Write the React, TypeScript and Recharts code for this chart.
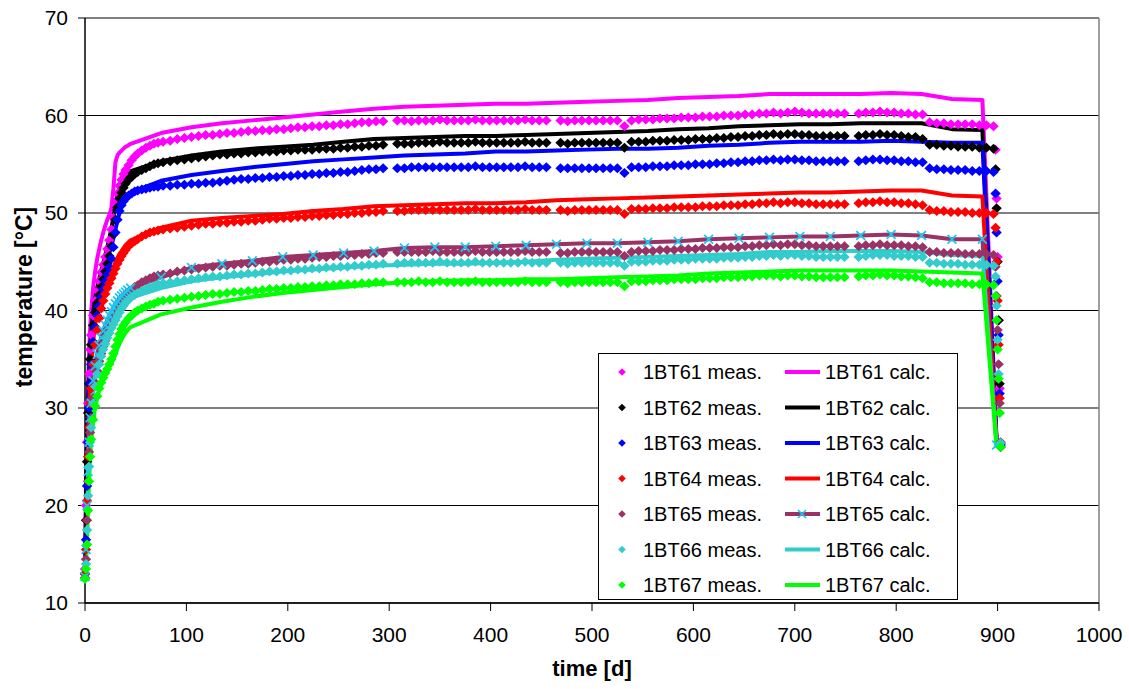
import React from 'react';
import {
  ComposedChart,
  Line,
  Scatter,
  XAxis,
  YAxis,
  CartesianGrid,
  Legend,
  ReferenceLine,
  Label,
} from 'recharts';

const FONT = '"Liberation Sans", Arial, Helvetica, sans-serif';

// Measurement days (weekly readings after the warm-up phase, with a few missing weeks)
const MEAS_DAYS = [
  0, 1, 2, 3, 4, 5, 6, 8, 10, 12, 14, 16, 18, 20, 22,
  24, 26, 28, 30, 32, 34, 36, 38, 40, 43, 46, 49, 52, 56, 60, 64, 68, 72,
  77, 84, 91, 98, 105, 112, 119, 126, 133, 140,
  147, 154, 161, 168, 175, 182, 189, 196, 203, 210,
  217, 224, 231, 238, 245, 252, 259, 266, 273, 280,
  287, 294,
  308, 315, 322, 329, 336, 343, 350, 357, 364, 371,
  378, 385, 392, 399, 406, 413, 420, 427, 434, 441,
  448, 455,
  469, 476, 483, 490, 497, 504, 511, 518, 525, 532,
  539, 546, 553, 560, 567, 574, 581, 588, 595, 602,
  609, 616, 623, 630, 637, 644, 651, 658, 665, 672,
  679, 686, 693, 700, 707, 714, 721, 728, 735, 742,
  749,
  763, 770, 777, 784, 791, 798, 805, 812, 819, 826,
  833, 840, 847, 854, 861, 868, 875, 882, 889, 896,
  898, 899, 900, 901, 902, 903,
];

const BT61_MEAS = [
  13.5, 20.0, 26.5, 30.5, 33.5, 36.0, 37.5, 39.5, 41.0, 42.0, 43.0, 43.9, 44.7, 45.5, 46.3,
  47.2, 48.3, 49.5, 51.0, 52.0, 52.8, 53.4, 54.0, 54.4, 54.9, 55.4, 55.8, 56.1, 56.4, 56.7, 56.9, 57.1, 57.2,
  57.3, 57.4, 57.6, 57.7, 57.8, 57.9, 58.0, 58.0, 58.1, 58.2,
  58.2, 58.3, 58.4, 58.4, 58.5, 58.5, 58.6, 58.6, 58.7, 58.8,
  58.8, 58.9, 58.9, 59.0, 59.0, 59.1, 59.1, 59.2, 59.3, 59.3,
  59.4, 59.4,
  59.5, 59.5, 59.4, 59.5, 59.5, 59.5, 59.6, 59.5, 59.5, 59.5,
  59.5, 59.6, 59.5, 59.5, 59.5, 59.5, 59.5, 59.5, 59.6, 59.5,
  59.5, 59.5,
  59.5, 59.4, 59.5, 59.5, 59.5, 59.5, 59.5, 59.5, 59.5, 58.9,
  59.5, 59.6, 59.6, 59.6, 59.7, 59.7, 59.7, 59.8, 59.8, 59.8,
  59.9, 59.9, 59.9, 60.0, 60.0, 60.0, 60.1, 60.1, 60.2, 60.2,
  60.3, 60.2, 60.3, 60.4, 60.3, 60.2, 60.2, 60.2, 60.2, 60.2,
  60.2,
  60.2, 60.3, 60.3, 60.4, 60.3, 60.3, 60.2, 60.2, 60.1, 60.1,
  59.3, 59.2, 59.2, 59.1, 59.1, 59.1, 59.1, 59.0, 59.0, 58.9,
  56.5, 51.5, 45.5, 39.0, 32.0, 26.3,
];

const BT62_MEAS = [
  13.0, 18.5, 24.5, 29.5, 32.5, 35.0, 36.5, 38.5, 39.8, 40.8, 41.6, 42.4, 43.2, 44.0, 44.8,
  45.6, 46.6, 47.8, 49.3, 50.6, 51.5, 52.1, 52.6, 53.0, 53.4, 53.7, 54.0, 54.2, 54.4, 54.6, 54.8, 55.0, 55.1,
  55.2, 55.3, 55.4, 55.5, 55.6, 55.7, 55.8, 55.9, 56.0, 56.0,
  56.1, 56.1, 56.2, 56.2, 56.3, 56.3, 56.3, 56.4, 56.4, 56.5,
  56.5, 56.5, 56.6, 56.6, 56.6, 56.7, 56.7, 56.8, 56.8, 56.9,
  56.9, 57.0,
  57.1, 57.1, 57.1, 57.2, 57.2, 57.2, 57.3, 57.2, 57.2, 57.2,
  57.2, 57.3, 57.2, 57.2, 57.2, 57.2, 57.2, 57.2, 57.3, 57.2,
  57.2, 57.2,
  57.2, 57.1, 57.2, 57.2, 57.2, 57.2, 57.2, 57.2, 57.2, 56.7,
  57.3, 57.3, 57.3, 57.4, 57.4, 57.4, 57.5, 57.5, 57.5, 57.6,
  57.6, 57.6, 57.7, 57.7, 57.8, 57.8, 57.9, 57.9, 58.0, 58.0,
  58.1, 58.0, 58.1, 58.1, 58.0, 58.0, 57.9, 57.9, 57.9, 57.9,
  57.9,
  57.9, 58.0, 58.0, 58.1, 58.0, 58.0, 57.9, 57.8, 57.8, 57.6,
  57.0, 57.0, 56.9, 56.9, 56.8, 56.8, 56.8, 56.7, 56.7, 56.6,
  54.5, 50.5, 45.0, 39.0, 32.5, 26.0,
];

const BT63_MEAS = [
  13.0, 16.5, 22.0, 26.5, 30.0, 32.5, 34.5, 36.8, 38.3, 39.5, 40.5, 41.4, 42.2, 43.0, 43.7,
  44.4, 45.3, 46.5, 48.0, 49.3, 50.2, 50.8, 51.2, 51.5, 51.8, 52.0, 52.2, 52.3, 52.4, 52.5, 52.6, 52.7, 52.7,
  52.8, 52.8, 52.9, 52.9, 53.0, 53.0, 53.1, 53.1, 53.2, 53.3,
  53.4, 53.5, 53.5, 53.6, 53.6, 53.7, 53.7, 53.8, 53.8, 53.9,
  53.9, 54.0, 54.0, 54.1, 54.1, 54.2, 54.2, 54.3, 54.4, 54.5,
  54.5, 54.6,
  54.6, 54.6, 54.7, 54.7, 54.7, 54.7, 54.7, 54.7, 54.7, 54.7,
  54.7, 54.8, 54.7, 54.7, 54.7, 54.7, 54.7, 54.7, 54.8, 54.7,
  54.7, 54.7,
  54.6, 54.6, 54.6, 54.6, 54.6, 54.6, 54.6, 54.6, 54.6, 54.1,
  54.7, 54.7, 54.7, 54.8, 54.8, 54.8, 54.9, 54.9, 54.9, 55.0,
  55.0, 55.0, 55.1, 55.1, 55.2, 55.2, 55.3, 55.3, 55.4, 55.4,
  55.5, 55.4, 55.5, 55.5, 55.4, 55.4, 55.3, 55.3, 55.3, 55.3,
  55.3,
  55.3, 55.4, 55.5, 55.5, 55.4, 55.4, 55.3, 55.3, 55.2, 55.2,
  54.6, 54.5, 54.5, 54.4, 54.4, 54.4, 54.3, 54.3, 54.3, 54.2,
  52.0, 48.0, 43.0, 37.5, 31.5, 26.2,
];

const BT64_MEAS = [
  13.0, 15.5, 20.5, 25.0, 28.0, 30.5, 32.0, 34.5, 36.5, 38.0, 39.2, 40.2, 41.0, 41.7, 42.3,
  42.8, 43.3, 43.8, 44.3, 44.8, 45.2, 45.6, 45.9, 46.2, 46.6, 46.9, 47.1, 47.3, 47.6, 47.8, 48.0, 48.1, 48.2,
  48.3, 48.4, 48.5, 48.6, 48.7, 48.8, 48.9, 48.9, 49.0, 49.0,
  49.1, 49.1, 49.2, 49.2, 49.3, 49.4, 49.4, 49.5, 49.5, 49.6,
  49.6, 49.7, 49.7, 49.8, 49.8, 49.9, 49.9, 50.0, 50.0, 50.1,
  50.1, 50.2,
  50.2, 50.2, 50.3, 50.3, 50.3, 50.3, 50.3, 50.3, 50.3, 50.3,
  50.3, 50.4, 50.3, 50.3, 50.3, 50.3, 50.3, 50.3, 50.4, 50.3,
  50.3, 50.3,
  50.3, 50.2, 50.3, 50.3, 50.3, 50.3, 50.3, 50.3, 50.3, 49.9,
  50.4, 50.4, 50.4, 50.5, 50.5, 50.5, 50.6, 50.6, 50.6, 50.6,
  50.7, 50.7, 50.7, 50.8, 50.8, 50.8, 50.9, 50.9, 51.0, 51.0,
  51.1, 51.0, 51.1, 51.1, 51.0, 51.0, 50.9, 50.9, 50.9, 50.9,
  50.9,
  51.0, 51.1, 51.1, 51.2, 51.1, 51.1, 51.0, 51.0, 50.9, 50.8,
  50.3, 50.2, 50.2, 50.1, 50.1, 50.1, 50.0, 50.0, 50.0, 49.9,
  48.5, 45.0, 41.0, 36.5, 31.0, 26.4,
];

const BT65_MEAS = [
  12.6, 14.5, 18.5, 22.5, 25.5, 27.5, 29.0, 31.0, 32.6, 33.8, 34.8, 35.6, 36.3, 36.9, 37.5,
  38.0, 38.5, 39.0, 39.5, 40.0, 40.4, 40.8, 41.1, 41.4, 41.8, 42.1, 42.4, 42.6, 42.9, 43.1, 43.3, 43.5, 43.6,
  43.7, 43.8, 44.0, 44.1, 44.2, 44.3, 44.4, 44.5, 44.6, 44.6,
  44.7, 44.8, 44.8, 44.9, 45.0, 45.0, 45.1, 45.2, 45.2, 45.3,
  45.3, 45.4, 45.5, 45.5, 45.6, 45.6, 45.7, 45.7, 45.8, 45.8,
  45.9, 45.9,
  46.0, 46.0, 46.0, 46.0, 46.0, 46.1, 46.0, 46.0, 46.0, 46.0,
  46.0, 46.1, 46.0, 46.0, 46.0, 46.0, 46.0, 46.0, 46.1, 46.0,
  46.0, 46.0,
  45.9, 45.9, 46.0, 46.0, 46.0, 46.0, 46.0, 46.0, 46.0, 45.6,
  46.0, 46.1, 46.1, 46.1, 46.2, 46.2, 46.2, 46.3, 46.3, 46.3,
  46.4, 46.4, 46.4, 46.5, 46.5, 46.5, 46.6, 46.6, 46.7, 46.7,
  46.8, 46.7, 46.8, 46.8, 46.7, 46.7, 46.6, 46.6, 46.6, 46.6,
  46.6,
  46.6, 46.7, 46.7, 46.8, 46.7, 46.7, 46.7, 46.6, 46.6, 46.5,
  46.0, 46.0, 45.9, 45.9, 45.9, 45.8, 45.8, 45.8, 45.8, 45.7,
  44.5, 41.5, 38.0, 34.5, 30.5, 26.5,
];

const BT66_MEAS = [
  12.5, 14.0, 17.5, 21.0, 24.0, 26.5, 28.0, 30.5, 32.2, 33.5, 34.5, 35.3, 36.0, 36.6, 37.2,
  37.7, 38.2, 38.6, 39.0, 39.4, 39.8, 40.2, 40.5, 40.8, 41.1, 41.4, 41.6, 41.8, 42.0, 42.2, 42.4, 42.5, 42.7,
  42.8, 42.9, 43.0, 43.1, 43.2, 43.3, 43.4, 43.5, 43.5, 43.6,
  43.7, 43.7, 43.8, 43.8, 43.9, 44.0, 44.0, 44.1, 44.1, 44.2,
  44.2, 44.3, 44.3, 44.4, 44.4, 44.5, 44.5, 44.6, 44.6, 44.7,
  44.7, 44.8,
  44.8, 44.9, 44.9, 44.9, 44.9, 44.9, 45.0, 44.9, 44.9, 44.9,
  44.9, 45.0, 44.9, 44.9, 44.9, 44.9, 44.9, 44.9, 45.0, 44.9,
  44.9, 44.9,
  44.9, 44.8, 44.9, 44.9, 44.9, 44.9, 44.9, 44.9, 44.9, 44.6,
  45.0, 45.0, 45.0, 45.1, 45.1, 45.1, 45.2, 45.2, 45.2, 45.3,
  45.3, 45.3, 45.3, 45.4, 45.4, 45.4, 45.5, 45.5, 45.6, 45.6,
  45.7, 45.6, 45.7, 45.7, 45.6, 45.6, 45.5, 45.5, 45.5, 45.5,
  45.5,
  45.5, 45.6, 45.7, 45.7, 45.7, 45.6, 45.6, 45.6, 45.5, 45.5,
  44.9, 44.9, 44.8, 44.8, 44.8, 44.7, 44.7, 44.7, 44.7, 44.6,
  43.5, 40.5, 37.0, 33.5, 29.5, 26.4,
];

const BT67_MEAS = [
  12.5, 13.5, 16.0, 19.5, 22.5, 25.0, 26.8, 28.8, 30.2, 31.2, 32.0, 32.6, 33.1, 33.6, 34.0,
  34.5, 35.0, 35.6, 36.3, 37.0, 37.6, 38.1, 38.5, 38.8, 39.2, 39.5, 39.8, 40.0, 40.2, 40.4, 40.6, 40.7, 40.9,
  41.0, 41.1, 41.2, 41.3, 41.4, 41.5, 41.6, 41.7, 41.7, 41.8,
  41.9, 41.9, 42.0, 42.0, 42.1, 42.2, 42.2, 42.3, 42.3, 42.4,
  42.4, 42.5, 42.5, 42.6, 42.6, 42.7, 42.7, 42.7, 42.8, 42.8,
  42.9, 42.9,
  42.9, 42.9, 42.9, 43.0, 42.9, 42.9, 43.0, 42.9, 42.9, 42.9,
  42.9, 43.0, 42.9, 42.9, 42.9, 42.9, 42.9, 42.9, 43.0, 42.9,
  42.9, 42.9,
  42.9, 42.8, 42.9, 42.9, 42.9, 42.9, 42.9, 42.9, 42.9, 42.5,
  43.0, 43.0, 43.0, 43.1, 43.1, 43.1, 43.2, 43.2, 43.2, 43.2,
  43.3, 43.3, 43.3, 43.4, 43.4, 43.4, 43.5, 43.5, 43.6, 43.6,
  43.6, 43.5, 43.6, 43.6, 43.5, 43.5, 43.4, 43.4, 43.4, 43.4,
  43.4,
  43.5, 43.6, 43.6, 43.7, 43.6, 43.6, 43.5, 43.5, 43.4, 43.3,
  42.9, 42.9, 42.8, 42.8, 42.8, 42.8, 42.7, 42.7, 42.7, 42.6,
  41.5, 39.0, 36.0, 33.0, 29.5, 26.0,
];

// Simulation output days
const CALC_DAYS = [
  0, 1, 2, 3, 4, 5, 6, 8, 10, 12, 14,
  16, 18, 20, 22, 24, 26, 28, 30, 32, 34, 36, 38, 40, 42, 45,
  75, 105, 135, 165, 195, 225, 255, 285, 315, 345,
  375, 405, 435, 465, 495, 525, 555, 585, 615, 645,
  675, 705, 735, 765, 795, 825, 855, 885, 899,
];

const BT61_CALC = [
  13.5, 22.0, 28.0, 32.5, 35.5, 38.0, 39.8, 42.3, 44.0, 45.3, 46.3,
  47.2, 48.0, 48.7, 49.3, 49.8, 50.5, 52.5, 55.2, 55.9, 56.2, 56.4, 56.6, 56.8, 56.9, 57.1,
  58.2, 58.8, 59.2, 59.5, 59.8, 60.1, 60.4, 60.7, 60.9, 61.0,
  61.1, 61.2, 61.2, 61.3, 61.4, 61.5, 61.6, 61.8, 61.9, 62.0,
  62.2, 62.2, 62.2, 62.2, 62.3, 62.2, 61.7, 61.6, 26.8,
];

const BT62_CALC = [
  13.0, 20.0, 26.0, 30.5, 33.5, 36.0, 37.6, 39.8, 41.2, 42.3, 43.2,
  44.1, 44.9, 45.7, 46.5, 47.4, 48.4, 49.6, 50.8, 51.8, 52.5, 53.0, 53.4, 53.7, 54.0, 54.3,
  55.3, 55.9, 56.3, 56.6, 56.8, 57.0, 57.3, 57.6, 57.7, 57.8,
  57.9, 57.9, 58.0, 58.1, 58.2, 58.3, 58.4, 58.6, 58.7, 58.9,
  59.0, 59.1, 59.1, 59.2, 59.2, 59.2, 58.6, 58.5, 26.5,
];

const BT63_CALC = [
  13.0, 18.0, 24.0, 28.5, 31.8, 34.3, 36.0, 38.4, 40.0, 41.2, 42.2,
  43.1, 43.9, 44.6, 45.3, 45.9, 46.6, 47.4, 48.3, 49.2, 50.0, 50.6, 51.1, 51.5, 51.8, 52.1,
  53.3, 53.9, 54.3, 54.7, 55.0, 55.3, 55.5, 55.7, 55.9, 56.0,
  56.1, 56.3, 56.3, 56.4, 56.5, 56.6, 56.6, 56.7, 56.9, 57.0,
  57.2, 57.3, 57.3, 57.3, 57.4, 57.3, 57.2, 57.2, 26.3,
];

const BT64_CALC = [
  12.8, 16.0, 21.0, 25.5, 29.0, 32.0, 34.0, 36.8, 38.5, 39.7, 40.6,
  41.4, 42.0, 42.6, 43.1, 43.6, 44.0, 44.4, 44.9, 45.4, 45.8, 46.1, 46.4, 46.7, 46.9, 47.2,
  48.5, 49.2, 49.5, 49.7, 49.9, 50.2, 50.4, 50.7, 50.8, 50.9,
  51.0, 51.0, 51.1, 51.3, 51.4, 51.5, 51.6, 51.7, 51.8, 51.9,
  52.0, 52.1, 52.1, 52.2, 52.3, 52.3, 51.8, 51.7, 26.4,
];

const BT65_CALC = [
  12.7, 15.5, 20.0, 23.5, 26.5, 29.0, 30.5, 32.8, 34.3, 35.5, 36.4,
  37.2, 37.9, 38.5, 39.0, 39.5, 39.9, 40.3, 40.7, 41.0, 41.3, 41.5, 41.7, 41.9, 42.1, 42.3,
  43.4, 44.4, 44.8, 45.1, 45.5, 45.7, 45.9, 46.1, 46.4, 46.5,
  46.5, 46.6, 46.7, 46.8, 46.9, 46.9, 47.0, 47.1, 47.3, 47.4,
  47.5, 47.6, 47.6, 47.7, 47.8, 47.7, 47.3, 47.3, 26.2,
];

const BT66_CALC = [
  12.5, 15.0, 19.0, 22.5, 25.5, 28.0, 29.6, 31.8, 33.3, 34.4, 35.3,
  36.1, 36.8, 37.4, 37.9, 38.4, 38.8, 39.2, 39.6, 39.9, 40.2, 40.5, 40.7, 40.9, 41.1, 41.3,
  42.3, 43.0, 43.4, 43.7, 44.0, 44.2, 44.4, 44.6, 44.7, 44.8,
  44.8, 44.9, 45.0, 45.2, 45.3, 45.4, 45.5, 45.6, 45.7, 45.8,
  46.0, 46.0, 46.1, 46.1, 46.1, 46.0, 45.7, 45.6, 26.3,
];

const BT67_CALC = [
  12.5, 13.8, 16.5, 19.5, 22.5, 24.8, 26.5, 28.6, 30.0, 31.0, 31.8,
  32.4, 32.9, 33.4, 33.8, 34.2, 34.6, 35.0, 35.5, 36.1, 36.6, 37.0, 37.4, 37.7, 38.0, 38.3,
  39.6, 40.3, 40.9, 41.4, 41.8, 42.1, 42.4, 42.7, 42.9, 43.0,
  43.1, 43.1, 43.2, 43.2, 43.3, 43.4, 43.5, 43.6, 43.8, 43.9,
  44.0, 44.1, 44.1, 44.1, 44.1, 44.0, 43.9, 43.8, 26.0,
];

const X_TICKS = [0, 100, 200, 300, 400, 500, 600, 700, 800, 900, 1000];
const Y_TICKS = [10, 20, 30, 40, 50, 60, 70];

type Sensor = {
  id: string;
  color: string;
  meas: number[];
  calc: number[];
  marker?: string;
};

const SENSORS: Sensor[] = [
  { id: '1BT61', color: '#FF00FF', meas: BT61_MEAS, calc: BT61_CALC },
  { id: '1BT62', color: '#000000', meas: BT62_MEAS, calc: BT62_CALC },
  { id: '1BT63', color: '#0000FF', meas: BT63_MEAS, calc: BT63_CALC },
  { id: '1BT64', color: '#FF0000', meas: BT64_MEAS, calc: BT64_CALC },
  { id: '1BT65', color: '#993366', meas: BT65_MEAS, calc: BT65_CALC, marker: '#18C8F4' },
  { id: '1BT66', color: '#33CCCC', meas: BT66_MEAS, calc: BT66_CALC },
  { id: '1BT67', color: '#00FF00', meas: BT67_MEAS, calc: BT67_CALC },
];

const toPoints = (days: number[], temps: number[]) => {
  const n = Math.min(days.length, temps.length);
  return days.slice(0, n).map((day, i) => ({ day, temp: temps[i] }));
};

const diamondPath = (cx: number, cy: number, rx: number, ry: number) =>
  `M${cx},${cy - ry}L${cx + rx},${cy}L${cx},${cy + ry}L${cx - rx},${cy}Z`;

const crossPath = (cx: number, cy: number, r: number) =>
  `M${cx - r},${cy - r}L${cx + r},${cy + r}M${cx - r},${cy + r}L${cx + r},${cy - r}`;

function DiamondDot(props: any) {
  const { cx, cy, fill } = props;
  if (cx == null || cy == null || Number.isNaN(cx) || Number.isNaN(cy)) return <g />;
  return <path d={diamondPath(cx, cy, 5.2, 5)} fill={fill} stroke="none" />;
}

function CrossDot(props: any) {
  const { cx, cy, stroke } = props;
  if (cx == null || cy == null || Number.isNaN(cx) || Number.isNaN(cy)) return <g />;
  return <path d={crossPath(cx, cy, 4.4)} fill="none" stroke={stroke} strokeWidth={1.7} />;
}

function LegendBox() {
  const rowTop = 19;
  const rowStep = 35.5;
  return (
    <svg width={360} height={247} style={{ display: 'block' }}>
      <rect x={0.5} y={0.5} width={359} height={246} fill="#FFFFFF" stroke="#000000" strokeWidth={1} />
      {SENSORS.map((s, i) => {
        const y = rowTop + i * rowStep;
        return (
          <g key={s.id}>
            <path d={diamondPath(24, y, 3.8, 3.8)} fill={s.color} />
            <text x={45} y={y + 7} fontSize={20} fontFamily={FONT} fill="#000">
              {`${s.id} meas.`}
            </text>
            <line x1={187} x2={222} y1={y} y2={y} stroke={s.color} strokeWidth={4} />
            {s.marker ? (
              <path d={crossPath(204, y, 4)} fill="none" stroke={s.marker} strokeWidth={1.6} />
            ) : null}
            <text x={227} y={y + 7} fontSize={20} fontFamily={FONT} fill="#000">
              {`${s.id} calc.`}
            </text>
          </g>
        );
      })}
    </svg>
  );
}

export default function App() {
  const calcLines = SENSORS.map((s) => (
    <Line
      key={`${s.id}-calc`}
      data={toPoints(CALC_DAYS, s.calc)}
      dataKey="temp"
      type="linear"
      stroke={s.color}
      strokeWidth={4}
      strokeLinejoin="round"
      dot={false}
      activeDot={false}
      isAnimationActive={false}
      legendType="none"
    />
  ));

  const markers: React.ReactNode[] = [];
  SENSORS.forEach((s) => {
    markers.push(
      <Scatter
        key={`${s.id}-meas`}
        data={toPoints(MEAS_DAYS, s.meas)}
        dataKey="temp"
        fill={s.color}
        shape={(p: any) => <DiamondDot cx={p.cx} cy={p.cy} fill={s.color} />}
        isAnimationActive={false}
        legendType="none"
      />
    );
    if (s.marker) {
      markers.push(
        <Scatter
          key={`${s.id}-calc-marks`}
          data={toPoints(CALC_DAYS, s.calc)}
          dataKey="temp"
          fill={s.marker}
          shape={(p: any) => <CrossDot cx={p.cx} cy={p.cy} stroke={s.marker} />}
          isAnimationActive={false}
          legendType="none"
        />
      );
    }
  });

  return (
    <div style={{ position: 'absolute', left: 0, top: 0, background: '#FFFFFF' }}>
      <ComposedChart
        width={1129}
        height={689}
        margin={{ top: 18, right: 30, bottom: 0, left: 0 }}
        style={{ fontFamily: FONT }}
      >
        <CartesianGrid vertical={false} stroke="#000000" strokeWidth={1} />
        <XAxis
          type="number"
          dataKey="day"
          domain={[0, 1000]}
          ticks={X_TICKS}
          interval={0}
          height={86}
          axisLine={{ stroke: '#000000', strokeWidth: 1.5 }}
          tickLine={{ stroke: '#000000' }}
          tickSize={8}
          tickMargin={16}
          tick={{ fontSize: 21, fill: '#000000', fontFamily: FONT }}
        >
          <Label
            position="bottom"
            content={() => (
              <text
                x={592}
                y={676}
                textAnchor="middle"
                fontSize={22}
                fontWeight="bold"
                fontFamily={FONT}
                fill="#000"
              >
                time [d]
              </text>
            )}
          />
        </XAxis>
        <YAxis
          type="number"
          dataKey="temp"
          domain={[10, 70]}
          ticks={Y_TICKS}
          interval={0}
          width={85}
          axisLine={{ stroke: '#000000', strokeWidth: 1.5 }}
          tickLine={{ stroke: '#000000' }}
          tickSize={7}
          tickMargin={10}
          tick={{ fontSize: 21, fill: '#000000', fontFamily: FONT }}
        >
          <Label
            position="left"
            content={() => (
              <text
                x={32}
                y={297}
                transform="rotate(-90 32 297)"
                textAnchor="middle"
                fontSize={23}
                fontWeight="bold"
                fontFamily={FONT}
                fill="#000"
              >
                temperature [°C]
              </text>
            )}
          />
        </YAxis>
        <ReferenceLine x={1000} stroke="#808080" strokeWidth={1.5} />
        <ReferenceLine y={70} stroke="#808080" strokeWidth={1.5} />
        {calcLines}
        {markers}
        <Legend
          layout="vertical"
          align="center"
          verticalAlign="middle"
          content={() => <LegendBox />}
          wrapperStyle={{ left: 598, top: 353, width: 360, height: 247, margin: 0, padding: 0 }}
        />
      </ComposedChart>
    </div>
  );
}
